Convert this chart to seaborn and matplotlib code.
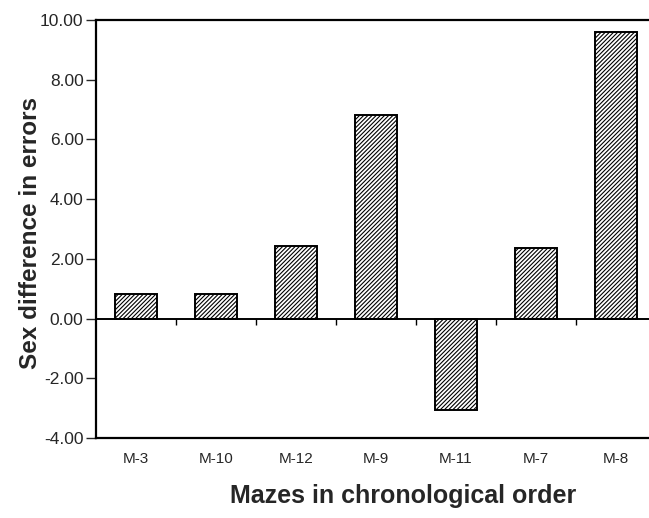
import matplotlib
matplotlib.use("Agg")
import matplotlib.pyplot as plt
import seaborn as sns
import pandas as pd

mazes = ["M-3", "M-10", "M-12", "M-9", "M-11", "M-7", "M-8"]
sex_diff = [0.82, 0.82, 2.43, 6.82, -3.06, 2.36, 9.60]
y_ticks = [-4, -2, 0, 2, 4, 6, 8, 10]

df = pd.DataFrame({"maze": mazes, "diff": sex_diff})

sns.set_style("white")
plt.rcParams["font.family"] = ["Liberation Sans", "DejaVu Sans"]
plt.rcParams["hatch.linewidth"] = 0.8

fig = plt.figure(figsize=(6.49, 5.18), dpi=100)
ax = fig.add_axes([96 / 649, 80 / 518, 560 / 649, 418 / 518])

sns.barplot(data=df, x="maze", y="diff", color="white", edgecolor="black",
            linewidth=1.4, width=0.52, hatch="////////", ax=ax)

ax.set_xlim(-0.5, 6.5)
ax.set_ylim(-4, 10)
ax.set_yticks(y_ticks)
ax.set_yticklabels([f"{v:.2f}" for v in y_ticks], fontsize=12.5)
ax.tick_params(axis="y", direction="out", length=7, width=1, left=True, pad=2)
ax.tick_params(axis="x", length=0, labelsize=11, pad=10)

# zero line with boundary ticks
ax.axhline(0, color="black", lw=1.4, zorder=3)
ax.vlines([i + 0.5 for i in range(len(mazes) - 1)], -0.2, 0, color="black", lw=1, zorder=3)

for side in ["left", "top", "bottom"]:
    ax.spines[side].set_color("black")
    ax.spines[side].set_linewidth(1.6)
ax.spines["right"].set_visible(False)

ax.set_ylabel("Sex difference in errors", fontsize=17.5, fontweight="bold")
ax.set_xlabel("Mazes in chronological order", fontsize=18, fontweight="bold")
ax.yaxis.set_label_coords(-0.097, 0.49)
ax.xaxis.set_label_coords(0.548, -0.11)

fig.savefig("out.png", dpi=100)
